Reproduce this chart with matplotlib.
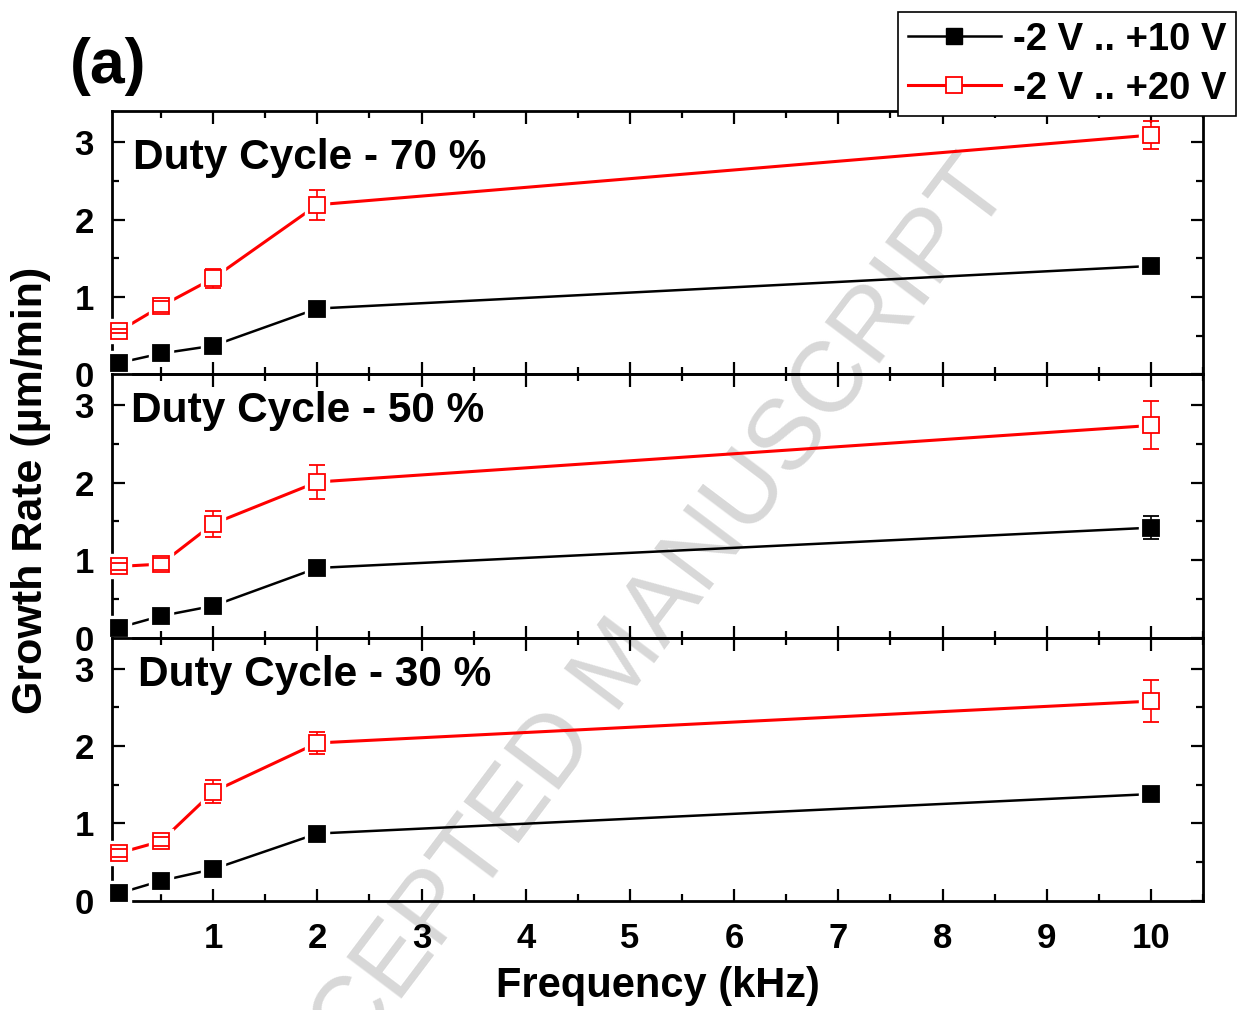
import numpy as np
import matplotlib
matplotlib.use('Agg')
import matplotlib.pyplot as plt
from matplotlib.lines import Line2D
from matplotlib.ticker import MultipleLocator

plt.rcParams['font.family'] = ['Liberation Sans', 'DejaVu Sans']
plt.rcParams['font.weight'] = 'bold'

freq = [0.1, 0.5, 1, 2, 10]  # kHz

duty_labels = ['Duty Cycle - 70 %', 'Duty Cycle - 50 %', 'Duty Cycle - 30 %']

# growth rate (um/min), -2 V .. +10 V
rate_10v = [
    [0.15, 0.27, 0.37, 0.85, 1.40],
    [0.13, 0.28, 0.41, 0.90, 1.42],
    [0.10, 0.26, 0.41, 0.87, 1.38],
]
err_10v = [
    [0.03, 0.03, 0.03, 0.04, 0.05],
    [0.03, 0.03, 0.03, 0.04, 0.15],
    [0.03, 0.03, 0.04, 0.04, 0.06],
]

# growth rate (um/min), -2 V .. +20 V
rate_20v = [
    [0.56, 0.88, 1.24, 2.19, 3.09],
    [0.92, 0.95, 1.47, 2.01, 2.74],
    [0.62, 0.77, 1.41, 2.04, 2.58],
]
err_20v = [
    [0.02, 0.07, 0.12, 0.19, 0.18],
    [0.05, 0.08, 0.17, 0.22, 0.31],
    [0.05, 0.06, 0.15, 0.14, 0.27],
]

label_pos = [(0.019, 0.822), (0.017, 0.862), (0.024, 0.857)]

fig = plt.figure(figsize=(12.41, 10.10), dpi=100)
gs = fig.add_gridspec(3, 1, left=0.0903, right=0.9694, top=0.890, bottom=0.108, hspace=0)
axes = [fig.add_subplot(gs[i]) for i in range(3)]


def draw_series(ax, y, yerr, color, filled, lw):
    # connecting line, with a white halo under each marker so the line stops short
    ax.plot(freq, y, '-', color=color, lw=lw, zorder=2, clip_on=False)
    ax.plot(freq, y, 's', ms=17, mfc='white', mec='white', zorder=3, clip_on=False)
    line, caps, bars = ax.errorbar(freq, y, yerr=yerr, fmt='s', ms=12,
                                   mfc=color if filled else 'white', mec=color, mew=1.3,
                                   ecolor=color, elinewidth=1.2, capsize=6, capthick=1.2,
                                   zorder=4)
    line.set_zorder(5)
    line.set_clip_on(False)
    for c in caps:
        c.set_zorder(6)


for i, ax in enumerate(axes):
    ax.set_facecolor('none')
    draw_series(ax, rate_10v[i], err_10v[i], 'black', True, 1.8)
    draw_series(ax, rate_20v[i], err_20v[i], 'red', False, 2.2)

    ax.set_xlim(0.03, 10.5)
    ax.set_ylim(0, 3.4)
    ax.xaxis.set_major_locator(MultipleLocator(1))
    ax.xaxis.set_minor_locator(MultipleLocator(0.5))
    ax.yaxis.set_major_locator(MultipleLocator(1))
    ax.yaxis.set_minor_locator(MultipleLocator(0.5))
    ax.tick_params(which='both', direction='in', top=True, right=True, width=1.6)
    ax.tick_params(which='major', length=9)
    ax.tick_params(which='minor', length=5)
    ax.tick_params(axis='y', labelsize=25, pad=13)
    ax.tick_params(axis='x', labelsize=25, pad=15)
    for s in ax.spines.values():
        s.set_linewidth(2.0)
    for t in ax.get_xticklabels() + ax.get_yticklabels():
        t.set_fontweight('bold')
    ax.text(label_pos[i][0], label_pos[i][1], duty_labels[i], transform=ax.transAxes,
            fontsize=30.5, fontweight='bold', ha='left', va='center')
    if i < 2:
        ax.tick_params(axis='x', labelbottom=False)

axes[-1].set_xticks(range(1, 11))
axes[-1].set_xticklabels([str(v) for v in range(1, 11)], fontweight='bold')

fig.text(0.53, 0.024, 'Frequency (kHz)', fontsize=30, fontweight='bold',
         ha='center', va='center')
fig.text(0.025, 0.514, 'Growth Rate (\u00b5m/min)', fontsize=31, fontweight='bold',
         rotation=90, ha='center', va='center')
fig.text(0.087, 0.934, '(a)', fontsize=45, fontweight='bold', ha='center', va='center')

fig.text(0.50, 0.342, 'ACCEPTED MANUSCRIPT', fontsize=72, fontweight='normal',
         color='#d8d8d8', rotation=53, ha='center', va='center',
         rotation_mode='anchor', zorder=-1)

handles = [
    Line2D([], [], color='black', lw=1.8, marker='s', ms=12, mfc='black', mec='black'),
    Line2D([], [], color='red', lw=2.2, marker='s', ms=12, mfc='white', mec='red', mew=1.3),
]
leg = fig.legend(handles, ['-2 V .. +10 V', '-2 V .. +20 V'],
                 loc='upper left', bbox_to_anchor=(0.7236, 0.988),
                 prop={'size': 27.5, 'weight': 'bold'}, frameon=True, fancybox=False,
                 edgecolor='black', framealpha=1, handlelength=2.45,
                 borderpad=0.25, labelspacing=0.34, handletextpad=0.3, borderaxespad=0)
leg.get_frame().set_linewidth(1.2)
leg.set_zorder(10)

fig.savefig('out.png', dpi=100)
